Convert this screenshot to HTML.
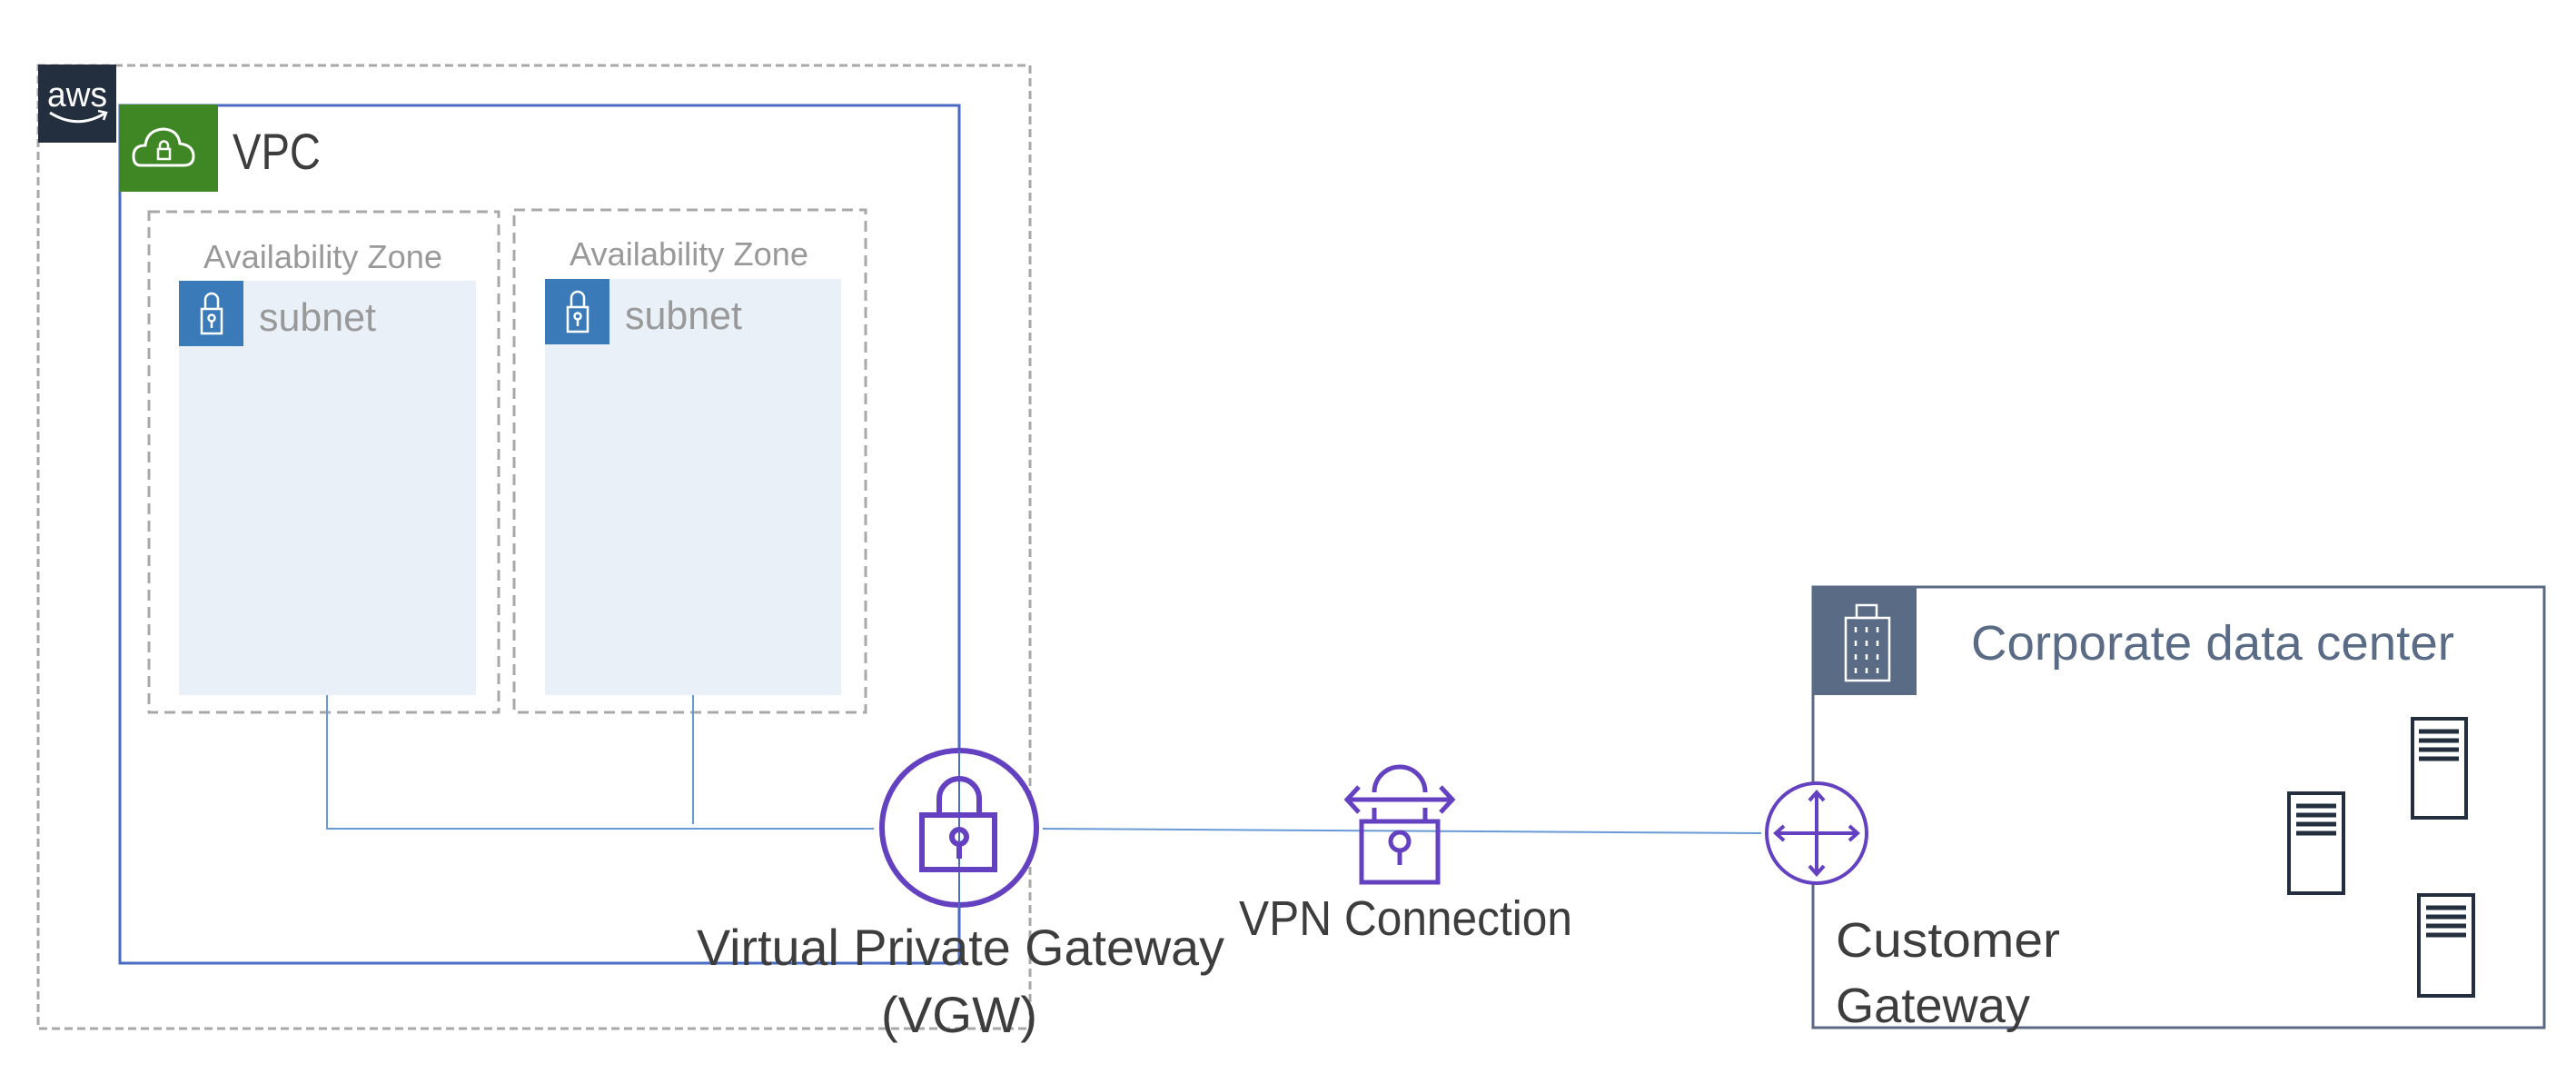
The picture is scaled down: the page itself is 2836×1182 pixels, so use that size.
<!DOCTYPE html>
<html><head><meta charset="utf-8"><style>
html,body{margin:0;padding:0;background:#fff;}
svg{display:block;}
text{font-family:"Liberation Sans",sans-serif;}
</style></head><body>
<svg width="2836" height="1182" viewBox="0 0 2836 1182" xmlns="http://www.w3.org/2000/svg">
<!-- AWS cloud dashed -->
<rect x="42" y="72" width="1092" height="1060" fill="none" stroke="#a8a8a8" stroke-width="3" stroke-dasharray="9,5"/>
<rect x="42" y="71" width="86" height="86" fill="#232f3e"/>
<text x="85" y="117" font-size="38" fill="#fff" text-anchor="middle" textLength="66" lengthAdjust="spacingAndGlyphs">aws</text>
<path d="M55 124 Q85 143 115 125" fill="none" stroke="#fff" stroke-width="3"/>
<path d="M108 122 L117 124 L114 132" fill="none" stroke="#fff" stroke-width="2.5"/>
<!-- VPC -->
<rect x="132" y="116" width="924" height="944" fill="none" stroke="#4a6bc4" stroke-width="3"/>
<rect x="132" y="115" width="108" height="96" fill="#3f8624"/>
<path d="M155 182 Q147 182 147 172 Q147 160 160 160 Q162 143 180 142 Q196 143 198 158 Q213 160 213 172 Q213 182 202 182 Z" fill="none" stroke="#fff" stroke-width="3"/>
<rect x="174" y="164" width="13" height="11" fill="none" stroke="#fff" stroke-width="2.5"/>
<path d="M176 164 v-4 a4.5 4.5 0 0 1 9 0 v4" fill="none" stroke="#fff" stroke-width="2.5"/>
<text x="256" y="186" font-size="56" fill="#3d3d3d" textLength="97" lengthAdjust="spacingAndGlyphs">VPC</text>
<!-- AZs -->
<rect x="164" y="233" width="385" height="551" fill="none" stroke="#a8a8a8" stroke-width="3" stroke-dasharray="12,7"/>
<rect x="566" y="231" width="387" height="553" fill="none" stroke="#a8a8a8" stroke-width="3" stroke-dasharray="12,7"/>
<text x="224" y="295" font-size="36" fill="#999" textLength="263" lengthAdjust="spacingAndGlyphs">Availability Zone</text>
<text x="627" y="292" font-size="36" fill="#999" textLength="263" lengthAdjust="spacingAndGlyphs">Availability Zone</text>
<!-- subnets -->
<rect x="197" y="309" width="327" height="456" fill="#e9f0f8"/>
<rect x="197" y="309" width="71" height="72" fill="#3a7ab8"/>
<text x="285" y="364" font-size="44" fill="#999" textLength="129" lengthAdjust="spacingAndGlyphs">subnet</text>
<rect x="600" y="307" width="326" height="458" fill="#e9f0f8"/>
<rect x="600" y="307" width="71" height="72" fill="#3a7ab8"/>
<text x="688" y="362" font-size="44" fill="#999" textLength="129" lengthAdjust="spacingAndGlyphs">subnet</text>
<g fill="none" stroke="#fff" stroke-width="2.5">
<rect x="222" y="340" width="22" height="27"/><path d="M226 340 v-10 a7 7 0 0 1 14 0 v10"/><circle cx="233" cy="350" r="3.5"/><path d="M233 354 v7"/>
<rect x="625" y="338" width="22" height="27"/><path d="M629 338 v-10 a7 7 0 0 1 14 0 v10"/><circle cx="636" cy="348" r="3.5"/><path d="M636 352 v7"/>
</g>
<!-- connectors -->
<g stroke="#6a9ad6" stroke-width="2" fill="none">
<path d="M360 765 V912 H962"/>
<path d="M763 765 V907"/>
<path d="M1148 912 L1939 917"/>
</g>
<!-- VGW -->
<circle cx="1056" cy="911" r="85" fill="#fff" stroke="#6441c0" stroke-width="6"/>
<line x1="1056" y1="826" x2="1056" y2="1060" stroke="#4a6bc4" stroke-width="2"/>
<g fill="none" stroke="#6441c0" stroke-width="6">
<rect x="1015" y="897" width="80" height="60"/>
<path d="M1034 897 V879 a22 22 0 0 1 44 0 V897"/>
<circle cx="1056" cy="921" r="8"/><path d="M1056 929 v16"/>
</g>
<text x="767" y="1062" font-size="56" fill="#3d3d3d" textLength="581" lengthAdjust="spacingAndGlyphs">Virtual Private Gateway</text>
<text x="1056" y="1136" font-size="56" fill="#3d3d3d" text-anchor="middle" textLength="172" lengthAdjust="spacingAndGlyphs">(VGW)</text>
<!-- VPN -->
<g fill="none" stroke="#6441c0" stroke-width="5">
<rect x="1499" y="904" width="84" height="67"/>
<path d="M1513 872 a28 28 0 0 1 56 0"/>
<path d="M1513 889 v15 M1569 889 v15"/>
<path d="M1483 880 H1599 M1496 866 l-13 14 l13 14 M1586 866 l13 14 l-13 14"/>
<circle cx="1541" cy="926" r="10"/><path d="M1541 936 v16"/>
</g>
<text x="1364" y="1029" font-size="54" fill="#3d3d3d" textLength="367" lengthAdjust="spacingAndGlyphs">VPN Connection</text>
<!-- Corporate -->
<rect x="1996" y="646" width="805" height="485" fill="none" stroke="#5a6a85" stroke-width="3"/>
<rect x="1996" y="646" width="114" height="119" fill="#5a6b86"/>
<g fill="none" stroke="#fff" stroke-width="2.5">
<rect x="2032" y="680" width="48" height="69"/><rect x="2044" y="666" width="22" height="14"/>
<path d="M2043 690v6M2055 690v6M2067 690v6M2043 705v6M2055 705v6M2067 705v6M2043 720v6M2055 720v6M2067 720v6M2043 735v6M2055 735v6M2067 735v6"/>
</g>
<text x="2170" y="726" font-size="54" fill="#5a6b86" textLength="532" lengthAdjust="spacingAndGlyphs">Corporate data center</text>
<!-- CGW -->
<circle cx="2000" cy="917" r="55" fill="#fff" stroke="#6441c0" stroke-width="4"/>
<g fill="none" stroke="#6441c0" stroke-width="4">
<path d="M2000 872 V962 M1955 917 H2045"/>
<path d="M1992 881 l8 -9 l8 9 M1992 953 l8 9 l8 -9 M1964 909 l-9 8 l9 8 M2036 909 l9 8 l-9 8"/>
</g>
<text x="2021" y="1053" font-size="54" fill="#3d3d3d" textLength="247" lengthAdjust="spacingAndGlyphs">Customer</text>
<text x="2021" y="1125" font-size="54" fill="#3d3d3d" textLength="214" lengthAdjust="spacingAndGlyphs">Gateway</text>
<!-- servers -->
<g fill="none" stroke="#232f3e" stroke-width="4">
<rect x="2656" y="791" width="59" height="109"/>
<rect x="2520" y="873" width="60" height="110"/>
<rect x="2663" y="985" width="60" height="111"/>
</g>
<g stroke="#232f3e" stroke-width="5">
<path d="M2663 805h44M2663 815h44M2663 825h44M2663 835h44"/>
<path d="M2528 887h44M2528 897h44M2528 907h44M2528 917h44"/>
<path d="M2671 999h44M2671 1009h44M2671 1019h44M2671 1029h44"/>
</g>
</svg>
</body></html>
